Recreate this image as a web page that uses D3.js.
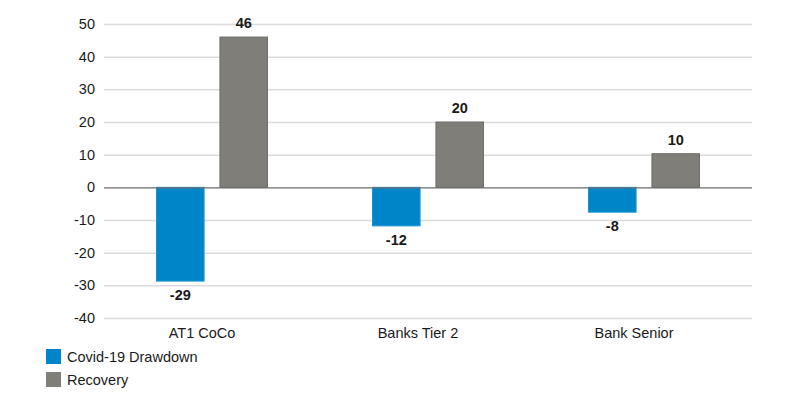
<!DOCTYPE html>
<html>
<head>
<meta charset="utf-8">
<script src="https://cdn.jsdelivr.net/npm/d3@7"></script>
<style>
  body { margin: 0; background: #fff; }
  svg text { font-family: "Liberation Sans", Arial, sans-serif; fill: #1a1a1a; }
</style>
</head>
<body>
<div id="chart"></div>
<script>
const categories = ["AT1 CoCo", "Banks Tier 2", "Bank Senior"];
const seriesNames = ["Covid-19 Drawdown", "Recovery"];
const drawdown = [-28.7, -11.8, -7.6];
const recovery = [46.0, 20.0, 10.3];
const yTicks = [50, 40, 30, 20, 10, 0, -10, -20, -30, -40];
const colors = ["#0086c8", "#7f7e79"];
const strokes = ["#1a93cf", "#6e6d68"];

const width = 800, height = 398;
const margin = { top: 24, right: 48, bottom: 80, left: 104 };

const svg = d3.select("#chart")
    .append("svg")
    .attr("width", width)
    .attr("height", height);

const x = d3.scaleBand()
    .domain(categories)
    .range([margin.left, width - margin.right]);

const inner = d3.scaleBand()
    .domain(seriesNames)
    .range([x.bandwidth() / 2 - 55.5, x.bandwidth() / 2 + 55.5])
    .paddingInner(0.25);

const y = d3.scaleLinear()
    .domain([-40, 50])
    .range([318, 24]);

// lignes de grille
svg.append("g")
    .selectAll("line")
    .data(yTicks.filter(d => d !== 0))
    .enter()
    .append("line")
    .attr("x1", margin.left)
    .attr("x2", width - margin.right)
    .attr("y1", d => y(d) + 0.5)
    .attr("y2", d => y(d) + 0.5)
    .attr("stroke", "#dcdcdc")
    .attr("stroke-width", 1.5);

// etiquettes axe y
svg.append("g")
    .selectAll("text")
    .data(yTicks)
    .enter()
    .append("text")
    .attr("x", 95)
    .attr("y", d => y(d))
    .attr("dy", "0.35em")
    .attr("text-anchor", "end")
    .style("font-size", "14.5px")
    .text(d => d);

const rows = categories.map((c, i) => ({ cat: c, vals: [drawdown[i], recovery[i]] }));

const groups = svg.selectAll(".grp")
    .data(rows)
    .enter()
    .append("g")
    .attr("class", "grp")
    .attr("transform", d => `translate(${x(d.cat)},0)`);

groups.selectAll("rect")
    .data(d => d.vals.map((v, j) => ({ name: seriesNames[j], v, j })))
    .enter()
    .append("rect")
    .attr("x", d => inner(d.name))
    .attr("width", inner.bandwidth())
    .attr("y", d => y(Math.max(0, d.v)))
    .attr("height", d => Math.abs(y(d.v) - y(0)))
    .attr("fill", d => colors[d.j])
    .attr("stroke", d => strokes[d.j])
    .attr("stroke-width", 1);

// etiquettes de valeur
groups.selectAll(".val")
    .data(d => d.vals.map((v, j) => ({ name: seriesNames[j], v, j })))
    .enter()
    .append("text")
    .attr("class", "val")
    .attr("x", d => inner(d.name) + inner.bandwidth() / 2)
    .attr("y", d => d.v >= 0 ? y(d.v) - 9 : y(d.v) + 19)
    .attr("text-anchor", "middle")
    .style("font-size", "14.5px")
    .style("font-weight", "bold")
    .text(d => String(Math.round(d.v)));

// ligne zero
svg.append("line")
    .attr("x1", margin.left)
    .attr("x2", width - margin.right)
    .attr("y1", y(0) + 0.5)
    .attr("y2", y(0) + 0.5)
    .attr("stroke", "#6b6b6b")
    .attr("stroke-width", 1.2);

// etiquettes categories
svg.append("g")
    .selectAll("text")
    .data(categories)
    .enter()
    .append("text")
    .attr("x", d => x(d) + x.bandwidth() / 2 - 10)
    .attr("y", 338)
    .attr("text-anchor", "middle")
    .style("font-size", "14.5px")
    .text(d => d);

// legende
const legend = svg.append("g")
    .selectAll("g")
    .data(seriesNames)
    .enter()
    .append("g")
    .attr("transform", (d, i) => `translate(46,${349 + i * 23})`);

legend.append("rect")
    .attr("width", 15)
    .attr("height", 15)
    .attr("fill", (d, i) => colors[i]);

legend.append("text")
    .attr("x", 21)
    .attr("y", 7.5)
    .attr("dy", "0.35em")
    .style("font-size", "14.5px")
    .text(d => d);
</script>
</body>
</html>
